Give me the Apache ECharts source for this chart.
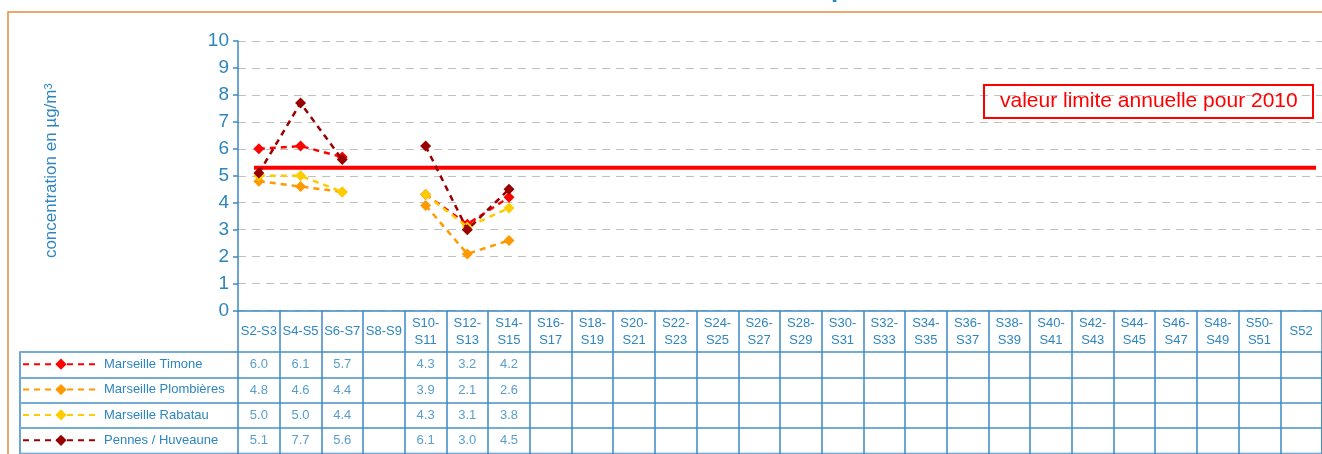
<!DOCTYPE html>
<html><head><meta charset="utf-8">
<script src="https://cdn.jsdelivr.net/npm/echarts@6/dist/echarts.min.js"></script>
<style>html,body{margin:0;padding:0;background:#fff}#c{width:1322px;height:454px}</style>
</head><body><div id="c"></div>
<script>
const categories = ['S2-S3','S4-S5','S6-S7','S8-S9','S10-S11','S12-S13','S14-S15','S16-S17','S18-S19','S20-S21','S22-S23','S24-S25','S26-S27','S28-S29','S30-S31','S32-S33','S34-S35','S36-S37','S38-S39','S40-S41','S42-S43','S44-S45','S46-S47','S48-S49','S50-S51','S52'];
const stations = ['Marseille Timone','Marseille Plombières','Marseille Rabatau','Pennes / Huveaune'];
const timone     = [6.0, 6.1, 5.7, null, 4.3, 3.2, 4.2];
const plombieres = [4.8, 4.6, 4.4, null, 3.9, 2.1, 2.6];
const rabatau    = [5.0, 5.0, 4.4, null, 4.3, 3.1, 3.8];
const pennes     = [5.1, 7.7, 5.6, null, 6.1, 3.0, 4.5];
const limitValue = 5.3;
const limitLabel = 'valeur limite annuelle pour 2010';
const yAxisTitle = 'concentration en µg/m';
const yAxisTitleSup = '3';
const titleFragment = 'p';
const colors = ['#ff0000', '#ff9900', '#ffcc00', '#990000'];

const values = [timone, plombieres, rabatau, pennes];
const blue = '#2e86c1';
const lineBlue = '#3b8ac4';
const font = '"Liberation Sans", Arial, sans-serif';

const tableTop = 352, tableHeight = 101.5;
const rowH = tableHeight / stations.length;

const chart = echarts.init(document.getElementById('c'));

const lineSeries = stations.map((name, i) => ({
  name: name,
  type: 'line',
  xAxisIndex: 0, yAxisIndex: 0,
  data: values[i],
  symbol: 'diamond',
  symbolSize: 11,
  connectNulls: false,
  z: 5 + i,
  lineStyle: { color: colors[i], width: 2.5, type: [6, 5] },
  itemStyle: { color: colors[i] }
}));

const tableSeries = stations.map((name, r) => ({
  name: name + ' (tableau)',
  type: 'scatter',
  xAxisIndex: 3, yAxisIndex: 3,
  symbolSize: 1,
  itemStyle: { color: 'transparent' },
  silent: true,
  data: values[r].map((v, i) => v == null ? null : [i, r, v]).filter(d => d),
  label: {
    show: true, position: 'inside', color: blue, fontSize: 13, fontFamily: font,
    formatter: p => p.value[2].toFixed(1)
  }
}));

const legends = stations.map((name, r) => ({
  data: [name],
  orient: 'vertical',
  left: 22, top: tableTop + rowH * (r + 0.5) - 7,
  padding: 0,
  itemWidth: 76, itemHeight: 14,
  selectedMode: false,
  textStyle: { color: blue, fontSize: 13, fontFamily: font }
}));

chart.setOption({
  animation: false,
  textStyle: { fontFamily: font },
  title: {
    text: limitLabel,
    left: 984, top: 85,
    padding: [6, 16],
    borderColor: '#ff0000', borderWidth: 2,
    textStyle: { color: '#ff0000', fontSize: 21, fontWeight: 'normal', fontFamily: font }
  },
  graphic: [
    { type: 'rect', z: -10, silent: true, shape: { x: 8, y: 12, width: 1400, height: 500 },
      style: { fill: 'none', stroke: '#e8893c', lineWidth: 1.5 } },
    { type: 'text', x: 831, y: -10, silent: true,
      style: { text: titleFragment, font: 'bold 26px ' + font, fill: blue, verticalAlign: 'middle' } }
  ],
  legend: legends,
  grid: [
    { left: 238, top: 41, width: 1086, height: 269.5 },
    { left: 254, top: 41, width: 1062, height: 269.5 },
    { left: 20, top: tableTop, width: 1304, height: tableHeight, show: true, borderColor: lineBlue, borderWidth: 1.5, backgroundColor: 'transparent' },
    { left: 238, top: tableTop, width: 1086, height: tableHeight }
  ],
  xAxis: [
    { type: 'category', gridIndex: 0, data: categories, boundaryGap: true,
      axisLine: { lineStyle: { color: lineBlue, width: 1.5 } },
      axisTick: { show: true, interval: 0, length: 144, lineStyle: { color: lineBlue, width: 1.5 } },
      axisLabel: { interval: 0, color: blue, fontSize: 13, lineHeight: 17, verticalAlign: 'middle', margin: 21,
        formatter: v => v.length > 5 ? v.replace('-', '-\n') : v },
      splitLine: { show: false } },
    { type: 'category', gridIndex: 1, data: ['', ''], boundaryGap: false, show: false },
    { type: 'value', gridIndex: 2, show: false },
    { type: 'category', gridIndex: 3, data: categories, show: false }
  ],
  yAxis: [
    { type: 'value', gridIndex: 0, min: 0, max: 10, interval: 1,
      axisLine: { show: true, lineStyle: { color: lineBlue, width: 1.5 } },
      axisTick: { show: true, length: 5, lineStyle: { color: lineBlue, width: 1.5 } },
      axisLabel: { color: blue, fontSize: 19, margin: 9 },
      splitLine: { show: true, lineStyle: { color: '#c0c0c0', width: 1, type: [8, 6] } },
      name: yAxisTitle + '{sup|' + yAxisTitleSup + '}',
      nameLocation: 'middle', nameGap: 178,
      nameTextStyle: { color: blue, fontSize: 17, fontFamily: font, padding: [0, 0, 0, 10],
        rich: { sup: { color: blue, fontSize: 11, verticalAlign: 'top', fontFamily: font } } } },
    { type: 'value', gridIndex: 1, min: 0, max: 10, show: false },
    { type: 'category', gridIndex: 2, data: stations, inverse: true,
      axisLine: { show: false }, axisTick: { show: false }, axisLabel: { show: false },
      splitLine: { show: true, lineStyle: { color: '#74acd6', width: 2 } } },
    { type: 'category', gridIndex: 3, data: stations, inverse: true, show: false }
  ],
  series: [
    { name: 'limite', type: 'line', xAxisIndex: 1, yAxisIndex: 1,
      data: [limitValue, limitValue], symbol: 'none', silent: true, z: 3,
      lineStyle: { color: '#ff0000', width: 4 } },
    ...lineSeries,
    ...tableSeries
  ]
});
</script>
</body></html>
